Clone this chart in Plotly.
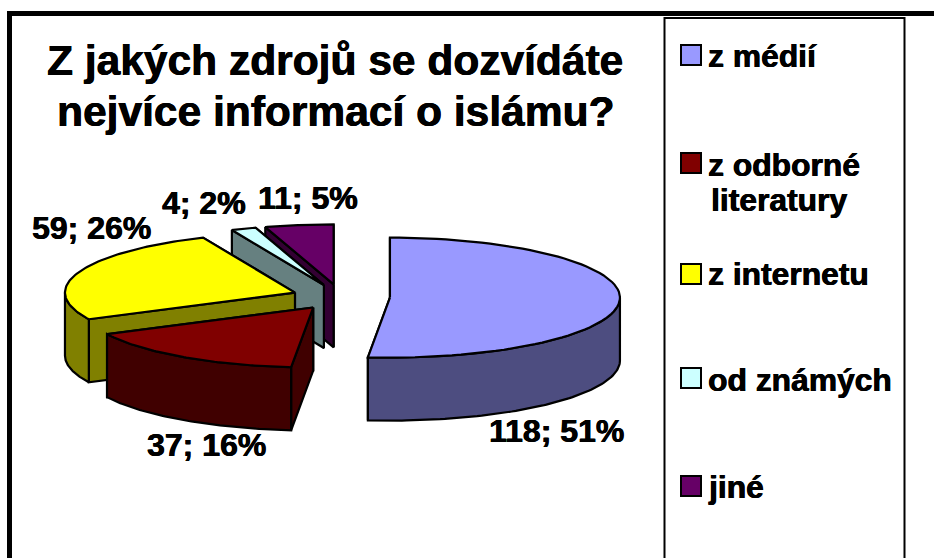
import numpy as np
import plotly.graph_objects as go

categories = ["z médií", "z odborné<br>literatury", "z internetu", "od známých", "jiné"]
values = [118, 37, 59, 4, 11]
percents = [51, 16, 26, 2, 5]
top_colors = ["#9999FF", "#800000", "#FFFF00", "#CCFFFF", "#660066"]
side_colors = ["#4D4D80", "#400000", "#808000", "#668080", "#330033"]
title_lines = ["Z jakých zdrojů se dozvídáte", "nejvíce informací o islámu?"]

# projection of the tilted, exploded pie into the pixel-sized plot area
CX, CY = 341, 297
RX, RY = 230, 60
EXPLODE = 49
DEPTH = 63
FONT = "Liberation Sans"
label_pos = [(556, 431), (206, 445), (91, 228), (204, 203), (308, 198)]
legend_y = [55, 163, 274, 378, 486]
legend_text_y = [56, 183, 274, 380, 487]


def rim(a, b, n=80):
    t = np.radians(np.linspace(a, b, n))
    return np.sin(t), -np.cos(t)


fig = go.Figure()


def poly(xs, ys, color):
    fig.add_trace(go.Scatter(
        x=list(xs) + [xs[0]], y=list(ys) + [ys[0]], mode="lines", fill="toself",
        fillcolor=color, line=dict(color="black", width=2.2),
        hoverinfo="skip", showlegend=False))


total = sum(values)
edges = np.cumsum([0] + values) / total * 360
slices = []
for i in range(len(values)):
    a, b = edges[i], edges[i + 1]
    mid = np.radians((a + b) / 2)
    ax = CX + EXPLODE * np.sin(mid)
    ay = CY - EXPLODE * np.cos(mid) * RY / RX
    slices.append((i, a, b, ax, ay))

for i, a, b, ax, ay in [slices[k] for k in (4, 3, 2, 1, 0)]:
    # radial cut faces
    for ang in (b, a):
        sx, cy = np.sin(np.radians(ang)), -np.cos(np.radians(ang))
        px, py = ax + RX * sx, ay + RY * cy
        poly([ax, px, px, ax], [ay, py, py + DEPTH, ay + DEPTH], side_colors[i])
    # outer wall, only where it faces the viewer
    lo, hi = max(a, 90), min(b, 270)
    if hi > lo:
        sx, cy = rim(lo, hi)
        xs = ax + RX * sx
        ys = ay + RY * cy
        poly(np.r_[xs, xs[::-1]], np.r_[ys, ys[::-1] + DEPTH], side_colors[i])
    # top face
    sx, cy = rim(a, b)
    poly(np.r_[ax, ax + RX * sx], np.r_[ay, ay + RY * cy], top_colors[i])

annotations = []
def text(x, y, s, size, anchor="center"):
    annotations.append(dict(x=x, y=y, xref="x", yref="y", text=f"<b>{s}</b>", showarrow=False,
                            xanchor=anchor, yanchor="middle",
                            font=dict(family=FONT, size=size, color="black",
                                      shadow="0.5px 0 0 black, -0.3px 0 0 black")))

for (x, y), s in zip([(335, 60), (335, 111)], title_lines):
    text(x, y, s, 42.5)
for (x, y), v, p in zip(label_pos, values, percents):
    text(x, y, f"{v}; {p}%", 32)

for name, y in zip(categories, legend_text_y):
    for j, part in enumerate(name.split("<br>")):
        yy = y - 18 + 35 * j if "<br>" in name else y
        text(706 if j == 0 else 709, yy, part, 31.8, "left")

fig.add_trace(go.Scatter(
    x=[691] * 5, y=legend_y, mode="markers",
    marker=dict(symbol="square", size=20, color=top_colors, line=dict(color="black", width=2)),
    hoverinfo="skip", showlegend=False))

shapes = [
    dict(type="line", x0=9.5, x1=934, y0=13.5, y1=13.5, line=dict(color="black", width=5)),
    dict(type="line", x0=9.5, x1=9.5, y0=11, y1=558, line=dict(color="black", width=5)),
    dict(type="line", x0=664.5, x1=664.5, y0=17, y1=558, line=dict(color="black", width=2)),
    dict(type="line", x0=904.5, x1=904.5, y0=17, y1=558, line=dict(color="black", width=2)),
    dict(type="line", x0=664, x1=905, y0=18, y1=18, line=dict(color="black", width=2)),
]

fig.update_layout(
    width=934, height=558, margin=dict(l=0, r=0, t=0, b=0),
    paper_bgcolor="white", plot_bgcolor="white",
    xaxis=dict(range=[0, 934], visible=False, fixedrange=True),
    yaxis=dict(range=[558, 0], visible=False, fixedrange=True),
    annotations=annotations, shapes=shapes, showlegend=False,
)
fig.write_html("out.html", config=dict(displayModeBar=False),
               post_script="document.body.style.margin='0';document.documentElement.style.overflow='hidden';")
